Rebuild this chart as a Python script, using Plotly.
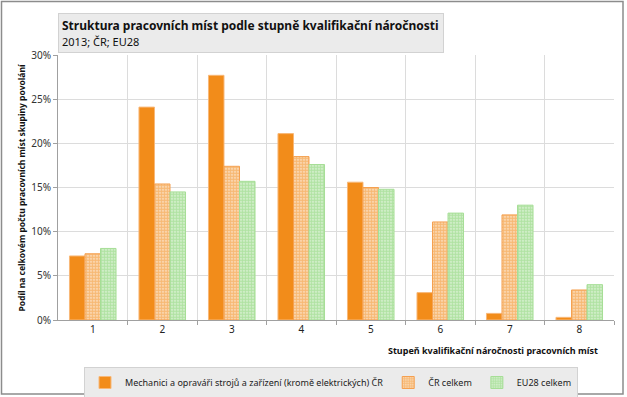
import plotly.graph_objects as go

categories = ["1", "2", "3", "4", "5", "6", "7", "8"]
mechanici = [7.25, 24.1, 27.7, 21.1, 15.6, 3.1, 0.75, 0.3]
cr_celkem = [7.5, 15.4, 17.4, 18.5, 15.0, 11.1, 11.9, 3.4]
eu28_celkem = [8.1, 14.5, 15.7, 17.6, 14.8, 12.1, 13.0, 4.0]
y_ticks = [0, 5, 10, 15, 20, 25, 30]
y_tick_labels = ["0%", "5%", "10%", "15%", "20%", "25%", "30%"]

FONT = "Noto Sans"
ORANGE = "#F28C1A"
GREEN = "#7ED06A"
W, H = 627, 397
L, R, T, B = 58, 13, 55, 77
PW, PH = W - L - R, H - T - B

fig = go.Figure()
fig.add_trace(go.Bar(
    x=categories, y=mechanici,
    name="Mechanici a opraváři strojů a zařízení (kromě elektrických) ČR",
    marker=dict(color=ORANGE, line=dict(color="#F8B878", width=1)),
))
fig.add_trace(go.Bar(
    x=categories, y=cr_celkem, name="ČR celkem",
    marker=dict(color="#FBE3CA", line=dict(color="#F5A050", width=1),
                pattern=dict(shape=".", fgcolor=ORANGE, bgcolor="#FCE6CF",
                             size=3, solidity=0.75)),
))
fig.add_trace(go.Bar(
    x=categories, y=eu28_celkem, name="EU28 celkem",
    marker=dict(color="#E0F4DA", line=dict(color="#A6DE96", width=1),
                pattern=dict(shape=".", fgcolor=GREEN, bgcolor="#E3F5DD",
                             size=3, solidity=0.75)),
))
# invisible trace to drive the category-boundary gridlines/ticks
fig.add_trace(go.Scatter(x=[0, 8], y=[0, 0], xaxis="x2", yaxis="y",
                         mode="markers", marker=dict(opacity=0),
                         showlegend=False, hoverinfo="skip"))

fig.update_layout(
    width=W, height=H,
    margin=dict(l=L, r=R, t=T, b=B, autoexpand=False),
    paper_bgcolor="white", plot_bgcolor="white",
    barmode="group", bargap=0.33, bargroupgap=0,
    font=dict(family=FONT, size=10, color="#222222"),
    showlegend=True,
    legend=dict(
        orientation="h", xref="container", yref="container",
        x=84 / W, xanchor="left", y=1 - 367 / H, yanchor="top",
        bgcolor="#EBEBEB", bordercolor="#D2D2D2", borderwidth=1,
        font=dict(family=FONT, size=9, color="#222222"),
        itemwidth=30, tracegroupgap=0,
    ),
    xaxis=dict(
        showgrid=False, showline=True, linecolor="#A0A0A0", linewidth=1,
        ticks="", tickfont=dict(size=10), ticklen=0, title=None,
    ),
    yaxis=dict(
        range=[0, 30], tickvals=y_ticks, ticktext=y_tick_labels,
        showgrid=True, gridcolor="#DCDCDC", gridwidth=1,
        showline=True, linecolor="#A0A0A0", linewidth=1,
        ticks="outside", ticklen=4, tickcolor="#A0A0A0",
        tickfont=dict(size=10, color="#333333"), zeroline=False,
    ),
    xaxis2=dict(
        overlaying="x", range=[0, 8], showgrid=True, gridcolor="#DCDCDC",
        gridwidth=1, tickvals=list(range(1, 9)), showticklabels=False,
        ticks="outside", ticklen=4, tickcolor="#A0A0A0", anchor="y",
        zeroline=False, showline=False,
    ),
    shapes=[
        dict(type="rect", xref="paper", yref="paper",
             x0=-(L - 1.5) / PW, x1=(W - L - 4) / PW,
             y0=-(B - 3) / PH, y1=1 + (T - 1.5) / PH,
             line=dict(color="#8C8C8C", width=1.5), fillcolor="rgba(0,0,0,0)",
             layer="below"),
    ],
    annotations=[
        dict(xref="paper", yref="paper", x=0, y=1 + (T - 13) / PH,
             xanchor="left", yanchor="top", align="left", showarrow=False,
             text="<b>Struktura pracovních míst podle stupně kvalifikační náročnosti</b>"
                  "<br><span style='font-size:11px'>2013; ČR; EU28</span>",
             font=dict(family=FONT, size=12, color="#111111"),
             bgcolor="#EBEBEB", bordercolor="#D2D2D2", borderwidth=1,
             borderpad=3, width=378),
        dict(xref="paper", yref="paper", x=(600 - L) / PW, y=-(342 - 320) / PH,
             xanchor="right", yanchor="top", showarrow=False,
             text="<b>Stupeň kvalifikační náročnosti pracovních míst</b>",
             font=dict(family=FONT, size=9, color="#111111")),
        dict(xref="paper", yref="paper", x=-(L - 21) / PW, y=0.5,
             xanchor="center", yanchor="middle", showarrow=False, textangle=-90,
             text="<b>Podíl na celkovém počtu pracovních míst skupiny povolání</b>",
             font=dict(family=FONT, size=8.5, color="#111111")),
    ],
)

fig.write_html("out.html", config={"displayModeBar": False},
               post_script="document.body.style.margin='0px';")
